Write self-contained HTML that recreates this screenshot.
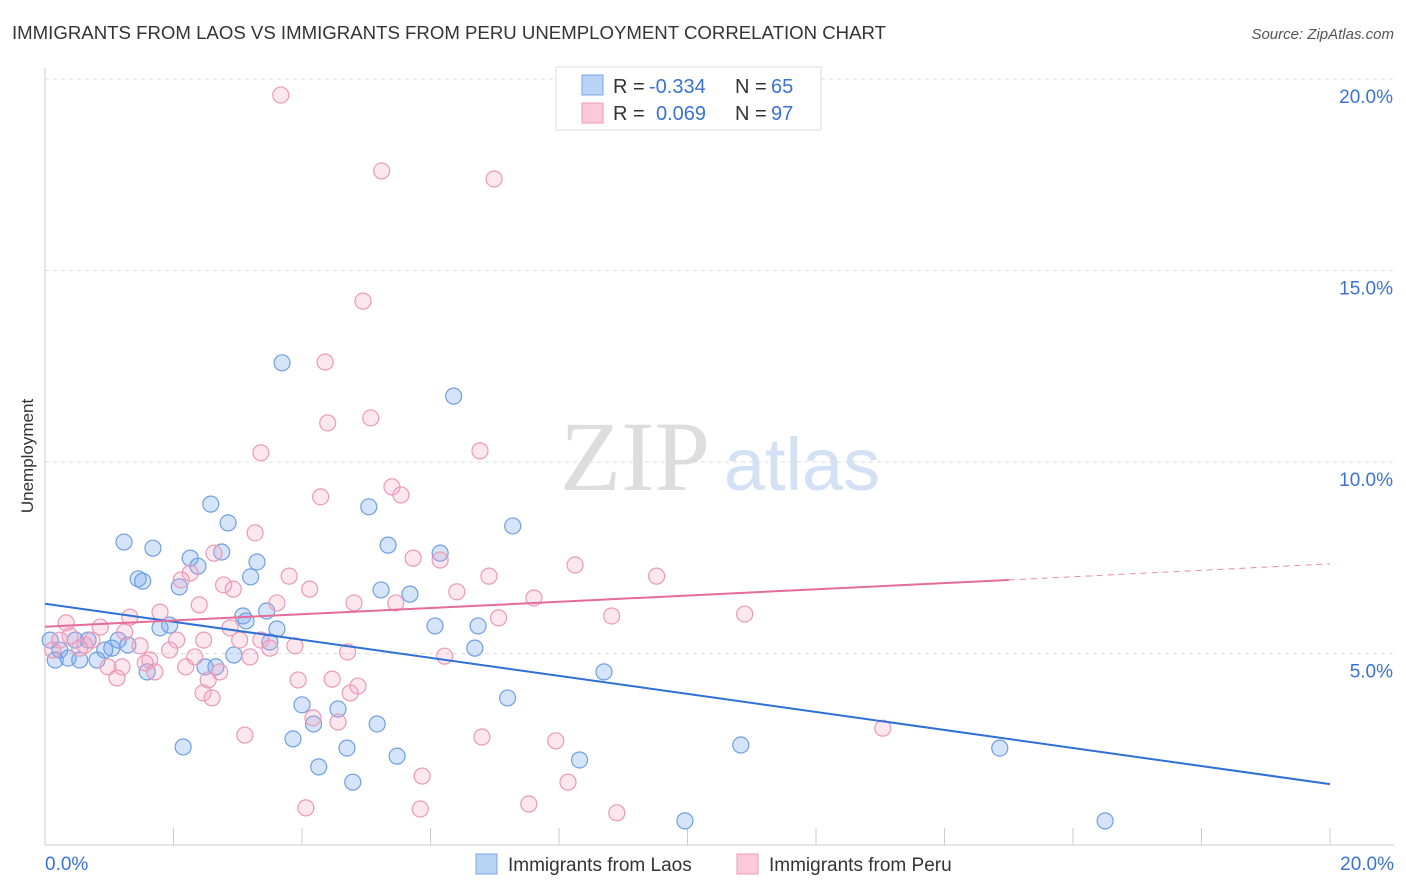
<!DOCTYPE html>
<html><head><meta charset="utf-8"><style>
body{margin:0;background:#fff;font-family:"Liberation Sans",sans-serif;}
svg{display:block}
</style></head><body>
<svg id="c" width="1406" height="892">
<text x="12" y="39" font-size="18" fill="#333" textLength="874" lengthAdjust="spacingAndGlyphs">IMMIGRANTS FROM LAOS VS IMMIGRANTS FROM PERU UNEMPLOYMENT CORRELATION CHART</text>
<text x="1394" y="39" font-size="15" fill="#555" font-style="italic" text-anchor="end">Source: ZipAtlas.com</text>
<text x="33" y="456" font-size="17" fill="#333" text-anchor="middle" transform="rotate(-90 33 456)">Unemployment</text>
<g><text x="635" y="490" font-size="100" fill="#ddd" font-family="Liberation Serif,serif" text-anchor="middle">ZIP</text><text x="802" y="490" font-size="74" fill="#d3e1f5" text-anchor="middle">atlas</text></g>
<g id="grid"></g><g id="marks"></g>
<g>
<rect x="556" y="67" width="265" height="63" fill="#fff" stroke="#ddd"/>
<rect x="582" y="75" width="21" height="20" fill="#b9d3f5" stroke="#7aa6e6"/>
<rect x="582" y="103" width="21" height="20" fill="#fcc9da" stroke="#eb9bb6"/>
<text x="613" y="93" font-size="20" fill="#333">R =</text>
<text x="649" y="93" font-size="20" fill="#3a72d6">-0.334</text>
<text x="735" y="93" font-size="20" fill="#333">N =</text>
<text x="771" y="93" font-size="20" fill="#3a72d6">65</text>
<text x="613" y="120" font-size="20" fill="#333">R =</text>
<text x="656" y="120" font-size="20" fill="#3a72d6">0.069</text>
<text x="735" y="120" font-size="20" fill="#333">N =</text>
<text x="771" y="120" font-size="20" fill="#3a72d6">97</text>
</g>
<g>
<rect x="476" y="854" width="21" height="20" fill="#b9d3f5" stroke="#7aa6e6"/>
<text x="508" y="871" font-size="19" fill="#333">Immigrants from Laos</text>
<rect x="737" y="854" width="21" height="20" fill="#fcc9da" stroke="#eb9bb6"/>
<text x="769" y="871" font-size="19" fill="#333">Immigrants from Peru</text>
</g>
</svg>
<script>
const yTicks=[5,10,15,20];
const xTickLabels=["0.0%","20.0%"];
const laosX=[0.08,0.16,0.23,0.36,0.47,0.54,0.67,0.81,0.93,1.04,1.14,1.29,1.23,1.45,1.52,1.68,1.59,1.79,1.94,2.15,2.26,2.38,2.09,2.49,2.58,2.66,2.75,2.85,2.94,3.08,3.13,3.20,3.30,3.45,3.50,3.61,3.69,3.86,4.00,4.18,4.26,4.56,4.70,4.79,5.04,5.17,5.23,5.34,5.48,5.68,6.07,6.15,6.36,6.69,6.74,7.20,7.28,8.32,8.70,9.96,10.83,14.86,16.50];
const laosY=[5.35,4.83,5.09,4.88,5.35,4.83,5.35,4.83,5.09,5.14,5.35,5.22,7.91,6.95,6.89,7.75,4.52,5.67,5.74,2.56,7.49,7.28,6.74,4.65,8.90,4.65,7.65,8.41,4.96,5.98,5.85,7.00,7.39,6.11,5.30,5.64,12.59,2.77,3.66,3.16,2.04,3.55,2.53,1.64,8.83,3.16,6.66,7.83,2.32,6.55,5.72,7.62,11.72,5.14,5.72,3.84,8.33,2.22,4.52,0.63,2.61,2.53,0.63];
const peruX=[3.67,5.24,6.99,4.95,4.36,4.40,5.07,3.36,6.77,4.29,5.40,5.54,3.27,2.63,5.73,6.15,8.25,3.80,6.91,9.52,2.12,2.26,2.78,2.93,4.12,6.41,7.61,4.81,5.46,3.61,2.40,1.79,1.32,7.06,8.82,10.89,0.33,0.86,1.24,2.88,2.47,2.05,1.48,1.94,3.03,3.36,3.50,3.89,4.71,6.22,0.12,0.54,0.73,1.63,2.33,3.19,0.98,1.20,1.56,1.71,2.19,2.72,1.12,2.54,3.94,4.47,4.87,4.75,2.46,2.60,4.17,4.56,3.11,6.80,7.95,13.04,5.87,8.14,4.06,5.84,7.53,8.90,0.23,0.39,0.62];
const peruY=[19.58,17.60,17.39,14.20,12.61,11.02,11.15,10.24,10.29,9.09,9.35,9.14,8.15,7.62,7.49,7.44,7.31,7.02,7.02,7.02,6.92,7.10,6.79,6.68,6.68,6.61,6.45,6.32,6.32,6.32,6.27,6.08,5.95,5.93,5.98,6.03,5.80,5.69,5.56,5.67,5.35,5.35,5.20,5.09,5.35,5.35,5.14,5.20,5.04,4.93,5.09,5.14,5.35,4.83,4.91,4.91,4.65,4.65,4.75,4.52,4.65,4.52,4.36,4.31,4.31,4.33,4.15,3.97,3.97,3.84,3.32,3.21,2.87,2.82,2.72,3.05,1.80,1.64,0.97,0.94,1.07,0.84,5.35,5.46,5.22];
const laosTrend=[6.30,1.59];
const peruTrend=[5.70,6.92,7.34];
const X=v=>45+v/20*1285, Y=v=>845-v/5*191.5;
const NS="http://www.w3.org/2000/svg";
function mk(t,a,p){const e=document.createElementNS(NS,t);for(const k in a)e.setAttribute(k,a[k]);p.appendChild(e);return e;}
const g=document.getElementById('grid'),m=document.getElementById('marks');
yTicks.forEach(t=>{const l=mk('line',{x1:45,x2:1394,y1:Y(t),y2:Y(t),stroke:'#ddd','stroke-dasharray':'4,4'},g);


const tx=mk('text',{x:1393,y:Y(t)+24,'font-size':19,fill:'#3a72d6','text-anchor':'end'},g);tx.textContent=t.toFixed(1)+'%';

});
mk('line',{x1:45,x2:45,y1:68,y2:845,stroke:'#ccc'},g);
mk('line',{x1:45,x2:1394,y1:845,y2:845,stroke:'#ccc'},g);
for(let i=1;i<=10;i++){mk('line',{x1:X(i*2),x2:X(i*2),y1:828,y2:845,stroke:'#ccc'},g);}
[[0,'start',45],[20,'end',1394]].forEach((d,i)=>{const tx=mk('text',{x:d[2],y:870,'font-size':19,fill:'#3a72d6','text-anchor':d[1]},g);tx.textContent=xTickLabels[i];

});
laosX.forEach((x,i)=>{const c=mk('circle',{cx:X(x),cy:Y(laosY[i]),r:8,fill:'rgba(120,165,235,0.3)',stroke:'#6f9fe3','stroke-width':1.2},m);

});
peruX.forEach((x,i)=>{const c=mk('circle',{cx:X(x),cy:Y(peruY[i]),r:8,fill:'rgba(245,160,190,0.25)',stroke:'#ec98b6','stroke-width':1.2},m);

});
let l=mk('line',{x1:X(0),y1:Y(laosTrend[0]),x2:X(20),y2:Y(laosTrend[1]),stroke:'#2f6fd8','stroke-width':2},m);


l=mk('line',{x1:X(0),y1:Y(peruTrend[0]),x2:X(15),y2:Y(peruTrend[1]),stroke:'#e56b98','stroke-width':2},m);


l=mk('line',{x1:X(15),y1:Y(peruTrend[1]),x2:X(20),y2:Y(peruTrend[2]),stroke:'#e88aab','stroke-width':1,'stroke-dasharray':'6,5'},m);


</script>
</body></html>
